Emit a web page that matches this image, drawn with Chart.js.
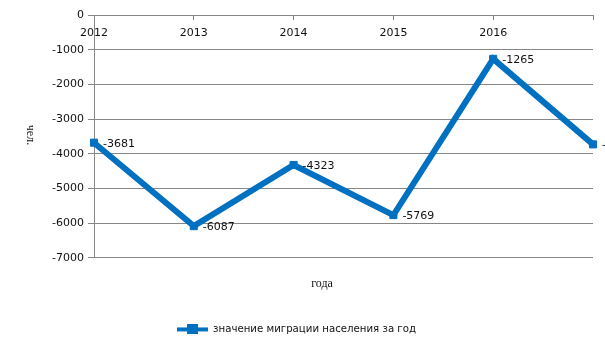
<!DOCTYPE html>
<html><head><meta charset="utf-8">
<script src="https://cdn.jsdelivr.net/npm/chart.js@4/dist/chart.umd.min.js"></script>
<style>html,body{margin:0;padding:0;background:#fff}#wrap{width:605px;height:340px}</style>
</head><body><div id="wrap"><canvas id="c" width="605" height="340"></canvas></div>
<script>
// ---- data ----
const years = ['2012', '2013', '2014', '2015', '2016', '2017'];
const migration = [-3681, -6087, -4323, -5769, -1265, -3730];
const yMin = -7000, yMax = 0, yStep = 1000;
const seriesName = 'значение миграции населения за год';
const xTitle = 'года';
const yTitle = 'чел.';

const BLUE = '#0070C0';
const GRID = '#868686';
const TEXT = '#111';
const SANS = "'DejaVu Sans', sans-serif";
const SERIF = "'Liberation Serif', serif";

// legend icon: line with square marker
const icon = document.createElement('canvas');
icon.width = 31; icon.height = 10;
(function () {
  const g = icon.getContext('2d');
  g.fillStyle = BLUE;
  g.fillRect(0, 3, 31, 4);
  g.fillRect(10, 0, 11, 10);
})();

const dataLabels = {
  id: 'dataLabels',
  afterDatasetsDraw(chart) {
    const ctx = chart.ctx;
    const meta = chart.getDatasetMeta(0);
    ctx.save();
    ctx.font = '11px ' + SANS;
    ctx.fillStyle = TEXT;
    ctx.textAlign = 'left';
    ctx.textBaseline = 'middle';
    meta.data.forEach((pt, i) => {
      ctx.fillText(String(chart.data.datasets[0].data[i]), pt.x + 9, pt.y + 1);
    });
    ctx.restore();
  }
};

const axisTitles = {
  id: 'axisTitles',
  afterDraw(chart) {
    const ctx = chart.ctx;
    const a = chart.chartArea;
    ctx.save();
    ctx.font = '12px ' + SERIF;
    ctx.fillStyle = TEXT;
    ctx.textAlign = 'center';
    ctx.textBaseline = 'middle';
    // x-axis title
    ctx.fillText(xTitle, 322, a.bottom + 26);
    // y-axis title (rotated)
    ctx.translate(30, 135);
    ctx.rotate(Math.PI / 2);
    ctx.fillText(yTitle, 0, 0);
    ctx.restore();
  }
};

new Chart(document.getElementById('c'), {
  type: 'line',
  data: {
    labels: years,
    datasets: [{
      label: seriesName,
      data: migration,
      borderColor: BLUE,
      backgroundColor: BLUE,
      borderWidth: 6,
      tension: 0,
      pointStyle: 'rect',
      pointRadius: 5,
      pointBorderWidth: 1,
      pointBackgroundColor: BLUE,
      pointBorderColor: BLUE,
      clip: false
    }]
  },
  options: {
    responsive: false,
    devicePixelRatio: 1,
    animation: false,
    layout: { padding: { left: 0, top: 15, right: 12, bottom: -4.5 } },
    scales: {
      x: {
        type: 'category',
        position: { y: 0 },
        offset: false,
        grid: { display: true, drawOnChartArea: false, color: GRID, tickLength: 4, tickColor: GRID },
        border: { display: true, color: GRID },
        ticks: {
          font: { family: SANS, size: 11 },
          color: TEXT,
          padding: 8,
          maxRotation: 0,
          autoSkip: false,
          callback: function (v, i) { return i === years.length - 1 ? '' : this.getLabelForValue(v); }
        }
      },
      y: {
        min: yMin,
        max: yMax,
        afterFit(scale) { scale.width = 94; },
        grid: { color: GRID, tickLength: 6, tickColor: GRID },
        border: { display: true, color: GRID },
        ticks: {
          stepSize: yStep,
          font: { family: SANS, size: 11 },
          color: TEXT,
          padding: 4,
          callback: (v) => String(v)
        }
      }
    },
    plugins: {
      tooltip: { enabled: false },
      title: { display: false },
      legend: {
        display: true,
        position: 'bottom',
        title: { display: true, text: '', font: { size: 10 }, padding: { top: 54.5, bottom: 0 } },
        labels: {
          usePointStyle: true,
          pointStyle: icon,
          pointStyleWidth: 31,
          boxHeight: 10,
          padding: 0,
          color: TEXT,
          font: { family: SANS, size: 10.2 }
        }
      }
    }
  },
  plugins: [dataLabels, axisTitles]
});
</script>
</body></html>
